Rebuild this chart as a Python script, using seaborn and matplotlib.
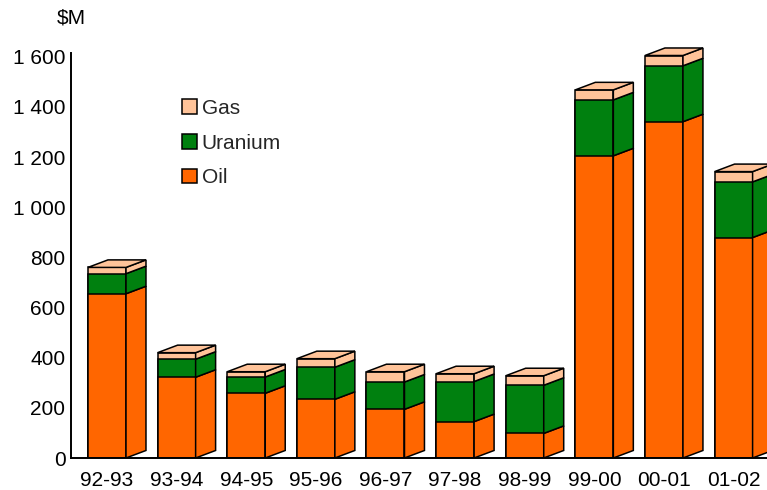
import matplotlib
matplotlib.use("Agg")
import matplotlib.pyplot as plt
import seaborn as sns
from matplotlib.patches import Polygon, Patch

# Annual revenue by resource ($M)
years = ["92-93", "93-94", "94-95", "95-96", "96-97", "97-98", "98-99", "99-00", "00-01", "01-02"]
oil = [655, 322, 258, 234, 194, 145, 98, 1205, 1341, 879]
uranium = [80, 72, 65, 128, 109, 160, 192, 223, 223, 222]
gas = [25, 26, 21, 34, 41, 31, 38, 40, 41, 41]

y_ticks = [0, 200, 400, 600, 800, 1000, 1200, 1400, 1600]
y_tick_labels = ["0", "200", "400", "600", "800", "1 000", "1 200", "1 400", "1 600"]

OIL_C = "#FF6600"
URA_C = "#00800F"
GAS_C = "#FFC399"

sns.set_theme(style="white")
plt.rcParams["font.family"] = ["Liberation Sans", "DejaVu Sans"]

W, H = 767, 490
PX_PER_UNIT = 405 / 1615
Y_TOP = 1720
Y_AXIS_END = 1615

fig = plt.figure(figsize=(W / 100, H / 100), dpi=100)
ax_h = Y_TOP * PX_PER_UNIT
ax = fig.add_axes([71 / W, 1 - 458 / H, 1 - 71 / W, ax_h / H])

BAR_W = 0.546      # front-face width in category units
DX, DY = 0.287, 30  # depth offset of the pseudo-3D extrusion
LW = 1.1

oil_ura = [o + u for o, u in zip(oil, uranium)]
total = [ou + g for ou, g in zip(oil_ura, gas)]

# front faces: cumulative stacks drawn from the top layer down
for vals, col in [(total, GAS_C), (oil_ura, URA_C), (oil, OIL_C)]:
    sns.barplot(x=years, y=vals, color=col, saturation=1, width=BAR_W,
                edgecolor="black", linewidth=LW, ax=ax, zorder=2)

# side and top faces
hw = BAR_W / 2
for i in range(len(years)):
    bounds = [(0, oil[i], OIL_C), (oil[i], oil_ura[i], URA_C), (oil_ura[i], total[i], GAS_C)]
    xr = i + hw
    for b, t, col in bounds:
        ax.add_patch(Polygon([(xr, b), (xr + DX, b + DY), (xr + DX, t + DY), (xr, t)],
                             closed=True, facecolor=col, edgecolor="black",
                             linewidth=LW, zorder=2))
    T = total[i]
    ax.add_patch(Polygon([(i - hw, T), (i - hw + DX, T + DY), (xr + DX, T + DY), (xr, T)],
                         closed=True, facecolor=GAS_C, edgecolor="black",
                         linewidth=LW, zorder=2))

ax.set_xlim(-0.517, 9.48)
ax.set_ylim(0, Y_TOP)
ax.set_yticks(y_ticks)
ax.set_yticklabels(y_tick_labels)
ax.set_xlabel("")
ax.set_ylabel("")
ax.tick_params(axis="both", length=0, labelsize=15, colors="black")
ax.tick_params(axis="y", pad=4)
ax.tick_params(axis="x", pad=9)

for side in ["top", "right"]:
    ax.spines[side].set_visible(False)
for side in ["left", "bottom"]:
    ax.spines[side].set_color("black")
    ax.spines[side].set_linewidth(1.4)
ax.spines["left"].set_bounds(0, Y_AXIS_END)

fig.text(71 / W, 1 - 18 / H, "$M", fontsize=15, ha="center", va="center", color="black")

handles = [Patch(facecolor=GAS_C, edgecolor="black", linewidth=LW, label="Gas"),
           Patch(facecolor=URA_C, edgecolor="black", linewidth=LW, label="Uranium"),
           Patch(facecolor=OIL_C, edgecolor="black", linewidth=LW, label="Oil")]
fig.legend(handles=handles, loc="upper left", bbox_to_anchor=(182 / W, 1 - 99 / H),
           frameon=False, fontsize=15, handlelength=0.7, handleheight=0.7,
           handletextpad=0.25, labelspacing=0.75, borderpad=0, borderaxespad=0)

fig.savefig("out.png", dpi=100)
